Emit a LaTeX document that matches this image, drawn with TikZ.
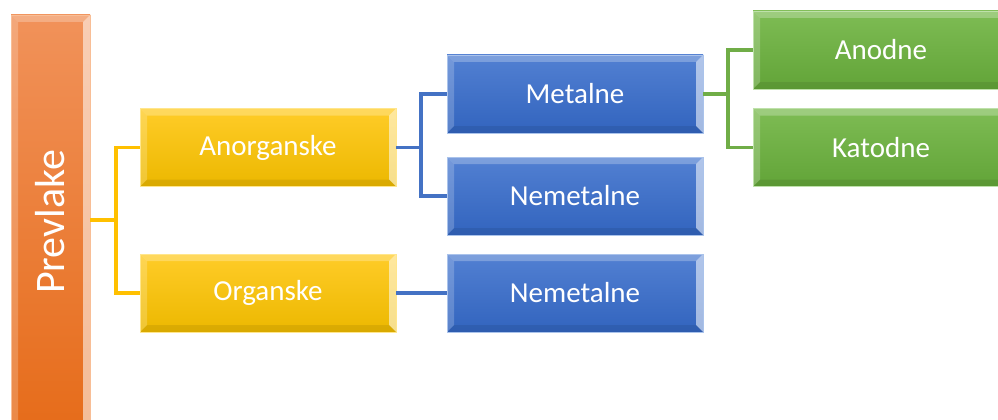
\documentclass[tikz,border=0pt]{standalone}
\usepackage{fontspec}
\setmainfont{Carlito}
\newcommand{\lblfont}{\fontsize{29}{34}\selectfont}
\newcommand{\bigfont}{\fontsize{42}{48}\selectfont}
\begin{document}
\begin{tikzpicture}[x=1pt,y=-1pt]
\tikzset{
  bev/.style={path picture={
    \def\bw{7pt}
    \coordinate (nw) at (path picture bounding box.north west);
    \coordinate (ne) at (path picture bounding box.north east);
    \coordinate (sw) at (path picture bounding box.south west);
    \coordinate (se) at (path picture bounding box.south east);
    \fill[white,opacity=.25] (nw) -- (ne) -- ([xshift=-\bw,yshift=-\bw]ne) -- ([xshift=\bw,yshift=-\bw]nw) -- cycle;
    \fill[white,opacity=.2] (nw) -- ([xshift=\bw,yshift=-\bw]nw) -- ([xshift=\bw,yshift=\bw]sw) -- (sw) -- cycle;
    \fill[white,opacity=.55] (ne) -- (se) -- ([xshift=-\bw,yshift=\bw]se) -- ([xshift=-\bw,yshift=-\bw]ne) -- cycle;
    \fill[black,opacity=.08] (sw) -- (se) -- ([xshift=-\bw,yshift=\bw]se) -- ([xshift=\bw,yshift=\bw]sw) -- cycle;
  }},
  box/.style={rectangle, minimum width=256pt, minimum height=78pt, inner sep=0pt,
    text=white, font=\lblfont, bev},
  orangebox/.style={rectangle, inner sep=0pt, text=white, font=\bigfont, bev,
    top color={rgb,255:red,241;green,146;blue,90}, bottom color={rgb,255:red,230;green,108;blue,26},
    draw={rgb,255:red,248;green,190;blue,150}, line width=0.8pt},
  yellowbox/.style={box, top color={rgb,255:red,255;green,204;blue,40}, bottom color={rgb,255:red,236;green,184;blue,0},
    draw={rgb,255:red,255;green,230;blue,140}, line width=0.8pt},
  bluebox/.style={box, top color={rgb,255:red,82;green,128;blue,210}, bottom color={rgb,255:red,50;green,100;blue,190},
    draw={rgb,255:red,170;green,195;blue,235}, line width=0.8pt},
  greenbox/.style={box, top color={rgb,255:red,126;green,188;blue,84}, bottom color={rgb,255:red,98;green,164;blue,56},
    draw={rgb,255:red,190;green,225;blue,170}, line width=0.8pt},
  yline/.style={draw={rgb,255:red,255;green,192;blue,0}, line width=3.4pt},
  bline/.style={draw={rgb,255:red,68;green,114;blue,196}, line width=3.4pt},
  gline/.style={draw={rgb,255:red,112;green,173;blue,71}, line width=3.4pt},
}
\clip (0,0) rectangle (998,420);
\fill[white] (0,0) rectangle (998,420);

\node[orangebox, minimum width=79pt, minimum height=414pt] (pre) at (50.5,222) {\rotatebox{90}{Prevlake}};

\node[yellowbox] (ano) at (268,147.5) {Anorganske};
\node[yellowbox] (org) at (268,293) {Organske};

\node[bluebox] (met) at (575,94) {Metalne};
\node[bluebox] (nem1) at (575,196) {Nemetalne};
\node[bluebox] (nem2) at (575,293) {Nemetalne};

\node[greenbox] (ando) at (881,50) {Anodne};
\node[greenbox] (kat) at (881,147.5) {Katodne};

\coordinate (j1) at (116,220);
\draw[yline] (pre.east |- j1) -- (j1);
\draw[yline] (ano.west) -| (j1) |- (org.west);

\coordinate (j2) at (421,147.5);
\draw[bline] (ano.east) -- (j2);
\draw[bline] (met.west) -| (j2) |- (nem1.west);
\draw[bline] (org.east) -- (nem2.west);

\coordinate (j3) at (728,94);
\draw[gline] (met.east) -- (j3);
\draw[gline] (ando.west) -| (j3) |- (kat.west);
\end{tikzpicture}
\end{document}
